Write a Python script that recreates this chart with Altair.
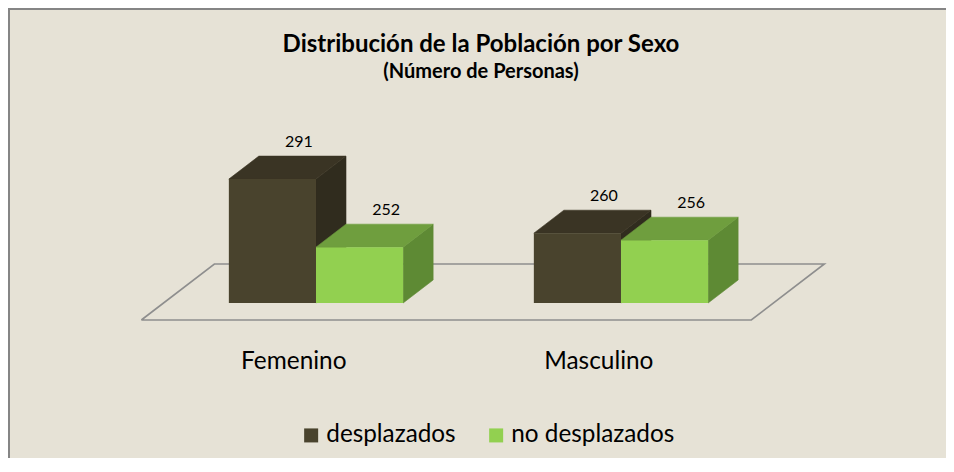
import altair as alt
import pandas as pd

# ---------------- data ----------------
categories = ["Femenino", "Masculino"]
series = ["desplazados", "no desplazados"]
desplazados = [291, 260]
no_desplazados = [252, 256]
title_text = "Distribución de la Población por Sexo"
subtitle_text = "(Número de Personas)"

# ---------------- style ----------------
front_colors = ["#49432D", "#92D050"]
top_colors = ["#3A3424", "#6F9E3E"]
side_colors = ["#302C1E", "#5E8A34"]
BG = "#E6E2D6"
FONT = "Lato"

W, H = 938, 450
BASE = 220            # value-axis minimum (floor level)
PX_PER_VALUE = 1.745  # vertical scale
BASE_PX = 295         # svg y of the floor level at the bar fronts
SLOT_PX = 87.14       # width of one bar
LEFT_PX = 155.5       # svg x of the first category's left edge
GAP = 1.5             # gap width between groups, in bar widths
DEPTH_RATIO = 30 / 23 # horizontal / vertical shift of the 3-D depth
BAR_DEPTH = 23        # px
FLOOR_FRONT = -17     # px
FLOOR_BACK = 39       # px

def dxu(px):
    return px * DEPTH_RATIO / SLOT_PX

def dyu(px):
    return px / PX_PER_VALUE

y_dom = [BASE - (H - BASE_PX) / PX_PER_VALUE, BASE + BASE_PX / PX_PER_VALUE]
x_dom = [-LEFT_PX / SLOT_PX, (W - LEFT_PX) / SLOT_PX]
xs = alt.Scale(domain=x_dom, nice=False, zero=False)
ys = alt.Scale(domain=y_dom, nice=False, zero=False)
GROUP = len(series) + GAP

values = [desplazados, no_desplazados]
fronts, sides, tops = [], [], []
for i, cat in enumerate(categories):
    for j, s in enumerate(series):
        v = values[j][i]
        x0 = i * GROUP + GAP / 2 + j
        x1 = x0 + 1
        bid = f"{cat}-{s}"
        fronts.append(dict(x0=x0, x1=x1, base=BASE, v=v, series=s,
                           lx=x0 + 0.5 + 26.5 / SLOT_PX, cat=cat))
        sides.append(dict(id=bid, x=x1, y=v, y2=BASE, c=side_colors[j]))
        sides.append(dict(id=bid, x=x1 + dxu(BAR_DEPTH), y=v + dyu(BAR_DEPTH),
                          y2=BASE + dyu(BAR_DEPTH), c=side_colors[j]))
        tops.append(dict(id=bid, y=v, x=x0, x2=x1, c=top_colors[j]))
        tops.append(dict(id=bid, y=v + dyu(BAR_DEPTH), x=x0 + dxu(BAR_DEPTH),
                         x2=x1 + dxu(BAR_DEPTH), c=top_colors[j]))
fronts = pd.DataFrame(fronts)
sides = pd.DataFrame(sides)
tops = pd.DataFrame(tops)

span = len(categories) * GROUP
floor = pd.DataFrame([
    dict(o=0, x=dxu(FLOOR_FRONT), y=BASE + dyu(FLOOR_FRONT)),
    dict(o=1, x=span + dxu(FLOOR_FRONT), y=BASE + dyu(FLOOR_FRONT)),
    dict(o=2, x=span + dxu(FLOOR_BACK), y=BASE + dyu(FLOOR_BACK)),
    dict(o=3, x=dxu(FLOOR_BACK), y=BASE + dyu(FLOOR_BACK)),
    dict(o=4, x=dxu(FLOOR_FRONT), y=BASE + dyu(FLOOR_FRONT)),
])
cats = pd.DataFrame(dict(
    cat=categories,
    x=[i * GROUP + GROUP / 2 + dxu(FLOOR_FRONT) for i in range(len(categories))],
    y=[BASE + dyu(FLOOR_FRONT)] * len(categories),
))

floor_layer = alt.Chart(floor).mark_line(color="#8E8E8E", strokeWidth=1.6).encode(
    x=alt.X("x:Q", scale=xs, axis=None),
    y=alt.Y("y:Q", scale=ys, axis=None),
    order="o:Q",
)
side_layer = alt.Chart(sides).mark_area(strokeWidth=0.6).encode(
    x=alt.X("x:Q", scale=xs, axis=None),
    y=alt.Y("y:Q", scale=ys, axis=None),
    y2="y2:Q",
    detail="id:N",
    fill=alt.Fill("c:N", scale=None),
    stroke=alt.Stroke("c:N", scale=None),
)
top_layer = alt.Chart(tops).mark_area(orient="horizontal", strokeWidth=0.6).encode(
    y=alt.Y("y:Q", scale=ys, axis=None),
    x=alt.X("x:Q", scale=xs, axis=None),
    x2="x2:Q",
    detail="id:N",
    fill=alt.Fill("c:N", scale=None),
    stroke=alt.Stroke("c:N", scale=None),
)
front_layer = alt.Chart(fronts).mark_rect().encode(
    x=alt.X("x0:Q", scale=xs, axis=None),
    x2="x1:Q",
    y=alt.Y("base:Q", scale=ys, axis=None),
    y2="v:Q",
    color=alt.Color(
        "series:N",
        scale=alt.Scale(domain=series, range=front_colors),
        legend=alt.Legend(
            title=None, orient="none", legendX=291, legendY=415,
            direction="horizontal", symbolType="square", symbolSize=196,
            symbolStrokeWidth=0, symbolOpacity=1, labelFontSize=24.3,
            labelFont=FONT, labelColor="black", labelOffset=3,
            columnPadding=28, padding=0, labelLimit=400,
        ),
    ),
)
value_layer = alt.Chart(fronts).mark_text(
    font=FONT, fontSize=16, color="black", baseline="alphabetic", dy=-32
).encode(
    x=alt.X("lx:Q", scale=xs, axis=None),
    y=alt.Y("v:Q", scale=ys, axis=None),
    text="v:Q",
)
cat_layer = alt.Chart(cats).mark_text(
    font=FONT, fontSize=24.4, color="black", baseline="alphabetic", dy=49
).encode(
    x=alt.X("x:Q", scale=xs, axis=None),
    y=alt.Y("y:Q", scale=ys, axis=None),
    text="cat:N",
)
one = pd.DataFrame({"a": [0]})
frame_left = alt.Chart(one).mark_rule(color="#858585", strokeWidth=2).encode(
    x=alt.value(1), y=alt.value(0), y2=alt.value(H)
)
frame_top = alt.Chart(one).mark_rule(color="#858585", strokeWidth=2).encode(
    x=alt.value(0), x2=alt.value(W), y=alt.value(1)
)

chart = alt.layer(
    floor_layer, side_layer, top_layer, front_layer, value_layer, cat_layer,
    frame_left, frame_top,
).properties(
    width=W, height=H, padding=0, autosize="none", background=BG,
    title=alt.Title(
        title_text, subtitle=subtitle_text, anchor="middle", offset=-75, dx=4,
        font=FONT, fontSize=24, fontWeight="bold", color="black",
        subtitleFont=FONT, subtitleFontSize=20, subtitleFontWeight="bold",
        subtitleColor="black", subtitlePadding=5,
    ),
).configure_view(stroke="transparent", strokeWidth=0)

chart.save("out.html", embed_options={"renderer": "svg", "actions": False})
